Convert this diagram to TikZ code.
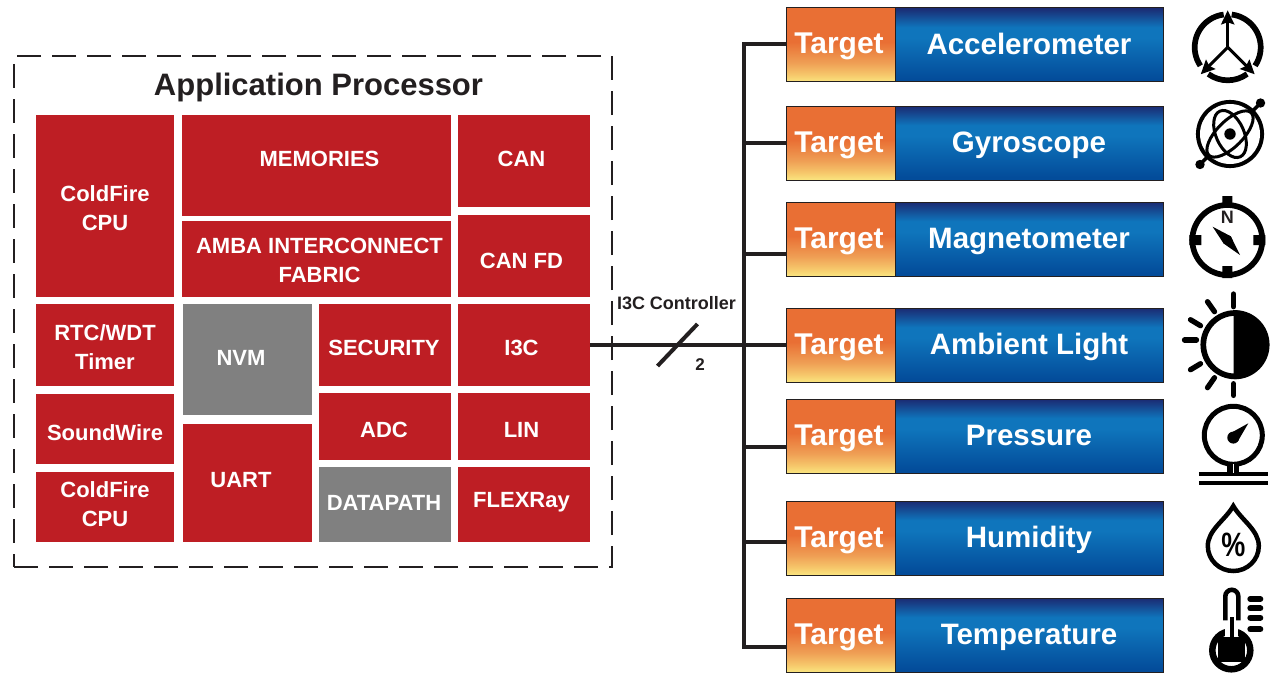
\documentclass[tikz,border=0pt]{standalone}
\usepackage{fontspec}
\setmainfont{Liberation Sans}
\usetikzlibrary{arrows.meta}
\definecolor{blkred}{HTML}{BE1E24}
\definecolor{blkgray}{HTML}{808080}
\definecolor{ink}{HTML}{231F20}
\definecolor{tgtor}{HTML}{E96F34}
\definecolor{tgtormid}{HTML}{EF9F55}
\definecolor{tgtyel}{HTML}{FAE57F}
\definecolor{tgtlow}{HTML}{F6C76B}
\definecolor{snsnavy}{HTML}{1B2A72}
\definecolor{snsblue}{HTML}{0F75BC}
\definecolor{snsdeep}{HTML}{034C9A}
\pgfdeclareverticalshading{tgtshade}{100bp}{color(0bp)=(tgtyel); color(25bp)=(tgtyel); color(30bp)=(tgtlow); color(38bp)=(tgtormid); color(52bp)=(tgtor); color(100bp)=(tgtor)}
\pgfdeclareverticalshading{snsshade}{100bp}{color(0bp)=(snsdeep); color(27bp)=(snsdeep); color(55bp)=(snsblue); color(62bp)=(snsblue); color(75bp)=(snsnavy); color(100bp)=(snsnavy)}
\newcommand{\fs}[1]{\fontsize{#1}{#1}\selectfont}
\newcommand{\blk}[9]{
  \node[#1,minimum width={#5-#3},minimum height={#6-#4}] (#2) at ({(#3+#5)/2},{(#4+#6)/2}) {};
  \node[blktxt] (#2txt) at (#7,#8) {#9};
}
\begin{document}
\begin{tikzpicture}[x=1pt,y=-1pt,
    redblk/.style={fill=blkred,inner sep=0pt,outer sep=0pt},
    grayblk/.style={fill=blkgray,inner sep=0pt,outer sep=0pt},
    blktxt/.style={text=white,font=\bfseries\fontsize{22}{29}\selectfont,align=center,inner sep=0pt},
    tgtbox/.style={shade,shading=tgtshade,draw=ink,line width=1pt,inner sep=0pt,outer sep=0pt,minimum width=109pt,minimum height=74pt,text=white,font=\bfseries\fs{30},text height=24pt,text depth=6pt},
    snsbox/.style={shade,shading=snsshade,draw=ink,line width=1pt,inner sep=0pt,outer sep=0pt,minimum width=268pt,minimum height=74pt,text=white,font=\bfseries\fs{29.5},text height=25pt,text depth=6pt},
    bus/.style={draw=ink,line width=4pt},
    icon/.style={draw=black,line width=5.7pt},
    ray/.style={draw=black,line width=5.3pt,line cap=round}]
  \useasboundingbox (0,0) rectangle (1272,685);
  \node[draw=ink,line width=2.5pt,dash pattern=on 24pt off 11pt,inner sep=0pt,minimum width=598pt,minimum height=511pt] (proc) at (313,311.5) {};
  \node[text=ink,font=\bfseries\fs{31},inner sep=0pt] (proctitle) at (318.5,87) {Application Processor};
  \blk{redblk}{cpua}{36}{115}{174}{297}{105}{208}{ColdFire\\CPU}
  \blk{redblk}{mem}{182}{115}{451}{216}{319.5}{158.5}{MEMORIES}
  \blk{redblk}{amba}{182}{221}{451}{297}{319.5}{260}{AMBA INTERCONNECT\\FABRIC}
  \blk{redblk}{can}{458}{115}{590}{207}{521.5}{158.5}{CAN}
  \blk{redblk}{canfd}{458}{215}{590}{297}{521.5}{260.5}{CAN FD}
  \blk{redblk}{rtc}{36}{304}{174}{386}{105}{347.5}{RTC/WDT\\Timer}
  \blk{grayblk}{nvm}{183}{304}{312}{415}{241}{357.5}{NVM}
  \blk{redblk}{sec}{319}{304}{451}{386}{384}{347.5}{SECURITY}
  \blk{redblk}{itc}{458}{304}{590}{386}{521.5}{347.5}{I3C}
  \blk{redblk}{snd}{36}{394}{174}{464}{105}{432.5}{SoundWire}
  \blk{redblk}{cpub}{36}{472}{174}{542}{105}{504}{ColdFire\\CPU}
  \blk{redblk}{uart}{183}{424}{312}{542}{241}{480}{UART}
  \blk{redblk}{adc}{319}{393}{451}{460}{384}{429.5}{ADC}
  \blk{redblk}{lin}{458}{393}{590}{460}{521.5}{429.5}{LIN}
  \blk{grayblk}{dpath}{319}{467}{451}{542}{384}{502.5}{DATAPATH}
  \blk{redblk}{flex}{458}{467}{590}{542}{521.5}{502.5}{FLEXRay}
  \foreach \n/\y/\b/\lab in {1/45/44/Accelerometer,2/143/143/Gyroscope,3/239/254/Magnetometer,4/345/345/Ambient Light,5/436/447/Pressure,6/538/542/Humidity,7/635/647/Temperature}{
    \node[tgtbox] (tgt\n) at (840.5,\y) {\kern-3pt Target};
    \node[snsbox] (sns\n) at (1029,\y) {\lab};
    \coordinate (bus\n) at (743.5,\b);
    \draw[bus] (bus\n) -- (bus\n -| tgt\n.west);
  }
  \draw[bus,line cap=rect] (bus1) -- (bus7);
  \draw[bus] (itc.east) -- (tgt4.west);
  \coordinate (slasha) at (657.5,366);
  \coordinate (slashb) at (697.5,324);
  \draw[bus] (slasha) -- (slashb);
  \node[text=ink,font=\bfseries\fs{18},inner sep=0pt] (ctrl) at (676.5,303) {I3C Controller};
  \node[text=ink,font=\bfseries\fs{17},inner sep=0pt] (wires) at (700,365) {2};
  % accelerometer
  \begin{scope}[shift={(1227.7,47.3)},>={Stealth[length=14pt,width=13pt,inset=2pt]}]
    \draw[icon] (-83:33) arc (-83:34:33);
    \draw[icon] (54:33) arc (54:126:33);
    \draw[icon] (146:33) arc (146:263:33);
    \draw[->,line width=3pt] (0,0) -- (0,-37);
    \draw[->,line width=3pt] (0,0) -- (-27,27);
    \draw[->,line width=3pt] (0,0) -- (27,27);
  \end{scope}
  % gyroscope
  \begin{scope}[shift={(1230,134)}]
    \draw[icon] (0,0) circle (31.2);
    \draw[line width=3.5pt] (30.5,-31) -- (-30,30.5);
    \fill[white] (0,0) circle (30);
    \fill (30.5,-31) circle (4.7) (-30,30.5) circle (4.7) (0,0) circle (5.7);
    \draw[line width=3pt,rotate=45] (0,0) ellipse (30 and 13);
    \draw[line width=3pt,rotate=-66] (0,0) ellipse (25 and 14);
  \end{scope}
  % magnetometer
  \begin{scope}[shift={(1227.3,240)}]
    \draw[icon] (0,0) circle (35);
    \fill (-5,-44) rectangle (5,-36) (-5,26) rectangle (5,38) (26,-5) rectangle (38,5) (-38,-5) rectangle (-26,5);
    \node[text=ink,font=\bfseries\fs{18},inner sep=0pt] (north) at (0,-22.5) {N};
    \fill (-14.7,-13.3) -- (3.5,-3.7) -- (12.7,15) -- (-3.7,3.5) -- cycle;
    \fill (0,0) circle (5);
  \end{scope}
  % ambient light
  \begin{scope}[shift={(1233.5,344.7)}]
    \draw[icon] (1.5,0) circle (31.7);
    \fill (0,-34.5) arc (-90:90:34.5 and 34.5) -- cycle;
    \draw[ray] (0,-50.7) -- (0,-38);
    \draw[ray] (0,39) -- (0,50.7);
    \draw[ray] (-26,-43) -- (-19,-33);
    \draw[ray] (-43,-25) -- (-33,-19);
    \draw[ray] (-49,-4.7) -- (-37,-4.7);
    \draw[ray] (-43,25) -- (-33,19);
    \draw[ray] (-26,43) -- (-19,33);
  \end{scope}
  % pressure
  \begin{scope}[shift={(1233.3,435.3)}]
    \fill (-6,26) rectangle (6,40);
    \draw[icon,line width=5pt,fill=white] (0,0) circle (29);
    \draw[line width=4.3pt] (-34.5,38.7) -- (34.5,38.7);
    \draw[line width=4.3pt] (-34.5,48) -- (34.5,48);
    \fill[white] (-0.7,29) rectangle (0.7,38);
    \fill (0,2.3) circle (6);
    \fill (-4,-1.5) -- (15,-12) -- (4.5,6) -- cycle;
  \end{scope}
  % humidity
  \begin{scope}[shift={(1233.3,545)}]
    \draw[icon,line width=4.5pt,line join=miter] (0,-39) .. controls (-8,-25) and (-25.5,-15) .. (-25.5,1) .. controls (-25.5,15) and (-14,26) .. (0,26) .. controls (14,26) and (25.5,15) .. (25.5,1) .. controls (25.5,-15) and (8,-25) .. cycle;
    \node[text=black,font=\bfseries\fs{27},inner sep=0pt] (pct) at (0,0) {\scalebox{1}[1.25]{\%}};
  \end{scope}
  % temperature
  \begin{scope}[shift={(1231.3,650.3)}]
    \draw[icon,line width=4.6pt] (-6,-30) -- (-6,-54) arc (180:360:6.5) -- (7,-30);
    \draw[icon,line width=6.5pt,fill=white] (0,0) circle (19);
    \fill[white] (-6,-24) rectangle (7,-14);
    \draw[line width=3.5pt] (0.5,-33) -- (0.5,-10);
    \fill (-13.3,-13.6) rectangle (13.7,11.4);
    \foreach \t in {-51.3,-42,-32.6,-21}{
      \draw[ray,line width=6pt] (19,\t) -- (29,\t);
    }
  \end{scope}
\end{tikzpicture}
\end{document}
